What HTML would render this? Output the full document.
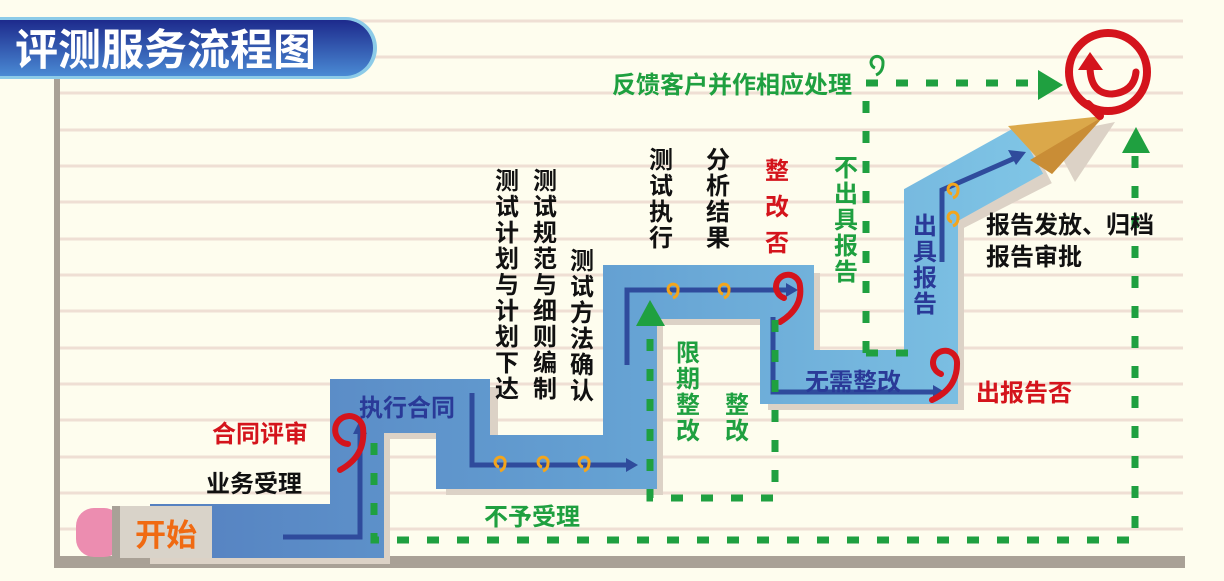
<!DOCTYPE html>
<html><head><meta charset="utf-8"><style>
html,body{margin:0;padding:0;background:#fefdee;}
svg{display:block;}
text{font-family:"Liberation Sans","Noto Sans CJK SC",sans-serif;font-weight:bold;}
</style></head><body>
<svg width="1224" height="581" viewBox="0 0 1224 581" xmlns="http://www.w3.org/2000/svg">
<defs>
<linearGradient id="tg" x1="0" y1="0" x2="0" y2="1">
<stop offset="0" stop-color="#1d2a8c"/><stop offset="1" stop-color="#4a8ad4"/></linearGradient>
<linearGradient id="pg" gradientUnits="userSpaceOnUse" x1="150" y1="0" x2="1050" y2="0">
<stop offset="0" stop-color="#5580c0"/><stop offset="0.5" stop-color="#64a0d2"/><stop offset="1" stop-color="#80c6e6"/></linearGradient>
</defs>
<rect width="1224" height="581" fill="#fefdee"/>
<g stroke="#efdfd4" stroke-width="3">
<line x1="60" y1="21" x2="1183" y2="21"/><line x1="60" y1="57" x2="1183" y2="57"/><line x1="60" y1="93" x2="1183" y2="93"/><line x1="60" y1="130" x2="1183" y2="130"/><line x1="60" y1="166" x2="1183" y2="166"/><line x1="60" y1="202" x2="1183" y2="202"/><line x1="60" y1="239" x2="1183" y2="239"/><line x1="60" y1="275" x2="1183" y2="275"/><line x1="60" y1="311" x2="1183" y2="311"/><line x1="60" y1="348" x2="1183" y2="348"/><line x1="60" y1="384" x2="1183" y2="384"/><line x1="60" y1="420" x2="1183" y2="420"/><line x1="60" y1="457" x2="1183" y2="457"/><line x1="60" y1="493" x2="1183" y2="493"/><line x1="60" y1="529" x2="1183" y2="529"/>
</g>
<rect x="54" y="75" width="6" height="490" fill="#a9a196"/>
<rect x="54" y="556" width="1131" height="12" fill="#a9a196"/>
<!-- title -->
<rect x="-30" y="17" width="407" height="62" rx="31" fill="#8ccbe8"/>
<rect x="-30" y="20" width="403" height="56" rx="28" fill="url(#tg)"/>
<text x="15" y="65" font-size="43" fill="#fff">评测服务流程图</text>
<!-- pencil shadow -->
<polyline points="150,538 364,538 364,413 472,413 472,469 637,469 637,299 794,299 794,384 938,384 938,212 1040,160" fill="none" stroke="#dcd2c6" stroke-width="52" stroke-linejoin="miter"/>
<polygon points="1050,135 1115,122 1075,182" fill="#dcd2c6"/>
<!-- pencil body -->
<polyline points="150,531 357,531 357,406 463,406 463,462 630,462 630,292 787,292 787,377 931,377 931,205 1030,150" fill="none" stroke="url(#pg)" stroke-width="54" stroke-linejoin="miter"/>
<polygon points="1008,126 1052,174 1104,116" fill="#dba84a"/>
<polygon points="1030,160 1052,174 1104,116" fill="#c98d36"/>
<!-- eraser -->
<rect x="76" y="508" width="46" height="49" rx="18" fill="#ec8db0"/>
<rect x="112" y="506" width="100" height="52" fill="#d9d3c9"/>
<rect x="112" y="506" width="8" height="52" fill="#a8a197"/>
<text x="135" y="546" font-size="31" fill="#f06a12">开始</text>
<!-- dark arrows -->
<g fill="none" stroke="#2f4b9c" stroke-width="5">
<polyline points="283,537 360,537 360,432"/>
<polyline points="472,393 472,465 628,465"/>
<polyline points="627,365 627,290 788,290"/>
<polyline points="773,317 773,392 935,392"/>
<polyline points="942,262 942,190 1015,158"/>
</g>
<g fill="#2f4b9c">
<polygon points="353,434 367,434 360,420"/><polygon points="626,458 626,472 638,465"/>
<polygon points="786,283 786,297 798,290"/><polygon points="933,385 933,399 945,392"/>
<polygon points="1008,150 1016,165 1026,152"/>
</g>
<!-- orange spirals -->
<g fill="none" stroke="#f3a51c" stroke-width="3">
<path d="M499,467 a5,5 0 1 1 6,-4 q0,6 -5,8"/><path d="M542,467 a5,5 0 1 1 6,-4 q0,6 -5,8"/><path d="M583,467 a5,5 0 1 1 6,-4 q0,6 -5,8"/>
<path d="M672,294 a5,5 0 1 1 6,-4 q0,6 -5,8"/><path d="M723,294 a5,5 0 1 1 6,-4 q0,6 -5,8"/>
<path d="M952,194 a5,5 0 1 1 6,-4 q0,6 -5,8"/><path d="M952,222 a5,5 0 1 1 6,-4 q0,6 -5,8"/>
</g>
<!-- red spirals -->
<g fill="none" stroke="#d4141c" stroke-width="6" stroke-linecap="round">
<path d="M348,444 A14,14 0 1 1 363,428 Q366,456 340,470"/>
<path d="M784,298 A12,12 0 1 1 800,286 Q803,308 780,322"/>
<path d="M941,374 A12,12 0 1 1 957,362 Q958,388 932,400"/>
<circle cx="1108" cy="72" r="39" stroke-width="8"/>
<path d="M1088,104 L1100,116" stroke-width="8"/>
<path d="M1090,66 Q1090,94 1112,94 Q1134,92 1136,72" stroke-width="7"/>
</g>
<polygon points="1078,70 1090,52 1103,70" fill="#d4141c"/>
<path d="M875,68 a6,6 0 1 1 8,-5 q0,9 -7,12" fill="none" stroke="#1fa040" stroke-width="3"/>
<!-- green dashed -->
<g fill="none" stroke="#1fa040" stroke-width="7" stroke-dasharray="12,18">
<polyline points="374,443 374,540 1135,540 1135,152"/>
<polyline points="775,320 775,498 650,498 650,322"/>
<polyline points="866,353 926,353"/>
<polyline points="866,353 866,83 1038,83"/>
</g>
<g fill="#1fa040">
<polygon points="636,326 665,326 650,300"/><polygon points="1038,70 1038,100 1063,85"/><polygon points="1122,153 1150,153 1136,127"/>
</g>
<!-- labels -->
<g font-size="24">
<text x="212" y="442" fill="#d4141c">合同评审</text>
<text x="206" y="492" fill="#111">业务受理</text>
<text x="359" y="416" fill="#2a3a98">执行合同</text>
<text x="484" y="525" fill="#1fa040">不予受理</text>
<text x="612" y="93" fill="#1fa040">反馈客户并作相应处理</text>
<text x="805" y="390" fill="#2a3a98">无需整改</text>
<text x="976" y="401" fill="#d4141c">出报告否</text>
<text x="986" y="233" fill="#111">报告发放、归档</text>
<text x="986" y="265" fill="#111">报告审批</text>
</g>
<g font-size="24" text-anchor="middle">
<text fill="#111"><tspan x="507" y="189">测</tspan><tspan x="507" dy="26">试</tspan><tspan x="507" dy="26">计</tspan><tspan x="507" dy="26">划</tspan><tspan x="507" dy="26">与</tspan><tspan x="507" dy="26">计</tspan><tspan x="507" dy="26">划</tspan><tspan x="507" dy="26">下</tspan><tspan x="507" dy="26">达</tspan></text>
<text fill="#111"><tspan x="545" y="189">测</tspan><tspan x="545" dy="26">试</tspan><tspan x="545" dy="26">规</tspan><tspan x="545" dy="26">范</tspan><tspan x="545" dy="26">与</tspan><tspan x="545" dy="26">细</tspan><tspan x="545" dy="26">则</tspan><tspan x="545" dy="26">编</tspan><tspan x="545" dy="26">制</tspan></text>
<text fill="#111"><tspan x="582" y="269">测</tspan><tspan x="582" dy="26">试</tspan><tspan x="582" dy="26">方</tspan><tspan x="582" dy="26">法</tspan><tspan x="582" dy="26">确</tspan><tspan x="582" dy="26">认</tspan></text>
<text fill="#111"><tspan x="661" y="168">测</tspan><tspan x="661" dy="26">试</tspan><tspan x="661" dy="26">执</tspan><tspan x="661" dy="26">行</tspan></text>
<text fill="#111"><tspan x="718" y="168">分</tspan><tspan x="718" dy="26">析</tspan><tspan x="718" dy="26">结</tspan><tspan x="718" dy="26">果</tspan></text>
<text fill="#d4141c"><tspan x="777" y="179">整</tspan><tspan x="777" dy="36">改</tspan><tspan x="777" dy="36">否</tspan></text>
<text fill="#1fa040"><tspan x="846" y="176">不</tspan><tspan x="846" dy="26">出</tspan><tspan x="846" dy="26">具</tspan><tspan x="846" dy="26">报</tspan><tspan x="846" dy="26">告</tspan></text>
<text fill="#2a3a98"><tspan x="925" y="234">出</tspan><tspan x="925" dy="26">具</tspan><tspan x="925" dy="26">报</tspan><tspan x="925" dy="26">告</tspan></text>
<text fill="#1fa040"><tspan x="688" y="361">限</tspan><tspan x="688" dy="26">期</tspan><tspan x="688" dy="26">整</tspan><tspan x="688" dy="26">改</tspan></text>
<text fill="#1fa040"><tspan x="737" y="413">整</tspan><tspan x="737" dy="26">改</tspan></text>
</g>
</svg>
</body></html>
